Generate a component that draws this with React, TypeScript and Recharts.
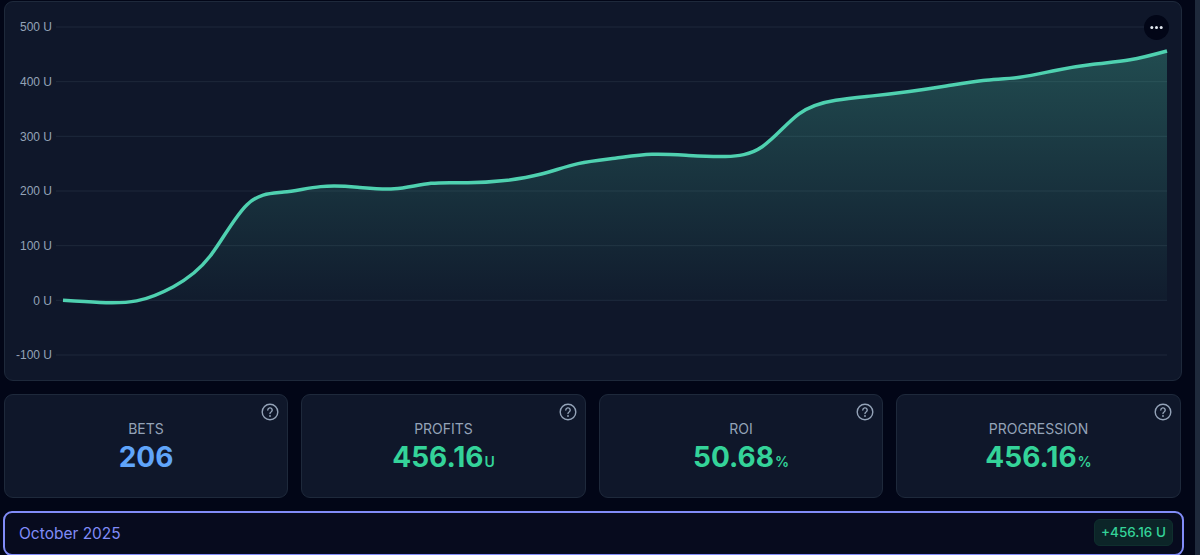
import React from "react";
import { AreaChart, Area, XAxis, YAxis, CartesianGrid } from "recharts";

const days = [1,2,3,4,5,6,7,8,9,10,11,12,13,14,15,16,17,18,19,20,21,22,23,24,25,26,27,28,29,30,31];
const profits = [0,-4,-1,25,81,175,198,208,207,204,214,215,219,231,250,260,267,265,263,281,341,366,374,382,392,402,408,421,432,440,456.16];
const yTicks = [-100,0,100,200,300,400,500];
const chartData = days.map((day, i) => ({ day, profit: profits[i] }));

const stats = [
  { label: "BETS", value: "206", unit: "", color: "#60a5fa", left: 4, width: 284 },
  { label: "PROFITS", value: "456.16", unit: "U", color: "#34d399", left: 301, width: 285 },
  { label: "ROI", value: "50.68", unit: "%", color: "#34d399", left: 599, width: 284 },
  { label: "PROGRESSION", value: "456.16", unit: "%", color: "#34d399", left: 896, width: 285 },
];

const FONT = "Inter, 'Open Sans', sans-serif";
const PANEL = "#0f172a";
const BORDER = "#1e293b";

function HelpIcon({ left, top }: { left: number; top: number }) {
  return (
    <svg width={18} height={18} viewBox="0 0 18 18" style={{ position: "absolute", left, top }}>
      <circle cx={9} cy={9} r={7.8} fill="none" stroke="#94a3b8" strokeWidth={1.4} />
      <path d="M6.8 7.1a2.2 2.2 0 1 1 3.3 1.9c-.7.4-1.1.8-1.1 1.6" fill="none" stroke="#94a3b8" strokeWidth={1.4} strokeLinecap="round" />
      <circle cx={9} cy={13} r={0.9} fill="#94a3b8" />
    </svg>
  );
}

export default function App() {
  return (
    <div style={{ position: "absolute", left: 0, top: 0, width: 1200, height: 555, overflow: "hidden", background: "#020617", fontFamily: FONT }}>
      <div style={{ position: "absolute", left: 1195, top: 0, width: 5, height: 555, background: "#1e293b" }} />
      <div style={{ position: "absolute", left: 4, top: 1, width: 1176, height: 378, background: PANEL, border: `1px solid ${BORDER}`, borderRadius: 9 }} />
      <div style={{ position: "absolute", left: 0, top: 0 }}>
        <AreaChart width={1200} height={385} data={chartData} margin={{ top: 27, right: 33, bottom: 30, left: 0 }}>
          <defs>
            <linearGradient id="profitFill" x1="0" y1="0" x2="0" y2="1">
              <stop offset="0%" stopColor="#4fd1b0" stopOpacity={0.47} />
              <stop offset="100%" stopColor="#4fd1b0" stopOpacity={0.04} />
            </linearGradient>
          </defs>
          <CartesianGrid vertical={false} stroke="#1e293b" strokeWidth={1} />
          <XAxis dataKey="day" hide type="number" domain={[1, 31]} />
          <YAxis
            width={63}
            domain={[-100, 500]}
            ticks={yTicks}
            interval={0}
            axisLine={false}
            tickLine={{ stroke: "#1e293b" }}
            tickSize={7}
            tickMargin={4}
            tick={{ fill: "#94a3b8", fontSize: 12, fontFamily: "'Liberation Sans', Arial, sans-serif" }}
            tickFormatter={(v: number) => `${v} U`}
          />
          <Area
            type="natural"
            dataKey="profit"
            stroke="#4fd1b0"
            strokeWidth={3.5}
            fill="url(#profitFill)"
            isAnimationActive={false}
            dot={false}
            activeDot={false}
          />
        </AreaChart>
      </div>
      <div style={{ position: "absolute", left: 1144, top: 15, width: 25, height: 25, borderRadius: "50%", background: "#020617", color: "#fff" }}>
        <svg width={25} height={25}>
          <circle cx={7.8} cy={12.5} r={1.5} fill="#e2e8f0" />
          <circle cx={12.5} cy={12.5} r={1.5} fill="#e2e8f0" />
          <circle cx={17.2} cy={12.5} r={1.5} fill="#e2e8f0" />
        </svg>
      </div>

      {stats.map((s) => (
        <div key={s.label} style={{ position: "absolute", left: s.left, top: 394, width: s.width - 2, height: 102, background: PANEL, border: `1px solid ${BORDER}`, borderRadius: 9 }}>
          <HelpIcon left={s.width - 28} top={8} />
          <div style={{ position: "absolute", left: 0, right: 0, top: 24, textAlign: "center", color: "#94a3b8", fontSize: 14, lineHeight: "20px" }}>{s.label}</div>
          <div style={{ position: "absolute", left: 0, right: 0, top: 42, textAlign: "center", color: s.color, fontSize: 28, lineHeight: "40px", fontWeight: 700, whiteSpace: "nowrap" }}>
            {s.value}
            {s.unit && <span style={{ fontSize: 14, fontWeight: 600, marginLeft: 1 }}>{s.unit}</span>}
          </div>
        </div>
      ))}

      <div style={{ position: "absolute", left: 3, top: 511, width: 1177, height: 41, background: "#070b1e", border: "2px solid #818cf8", borderRadius: 9 }}>
        <div style={{ position: "absolute", left: 14, top: 0, lineHeight: "41px", fontSize: 15.5, color: "#818cf8" }}>October 2025</div>
        <div style={{ position: "absolute", left: 1089, top: 6, width: 79, height: 27, background: "#0c2528", borderRadius: 6, border: "1px solid #0f2f2e", boxSizing: "border-box", textAlign: "center", lineHeight: "25px", fontSize: 13.5, fontWeight: 500, color: "#34d399", whiteSpace: "nowrap" }}>+456.16 U</div>
      </div>
    </div>
  );
}
